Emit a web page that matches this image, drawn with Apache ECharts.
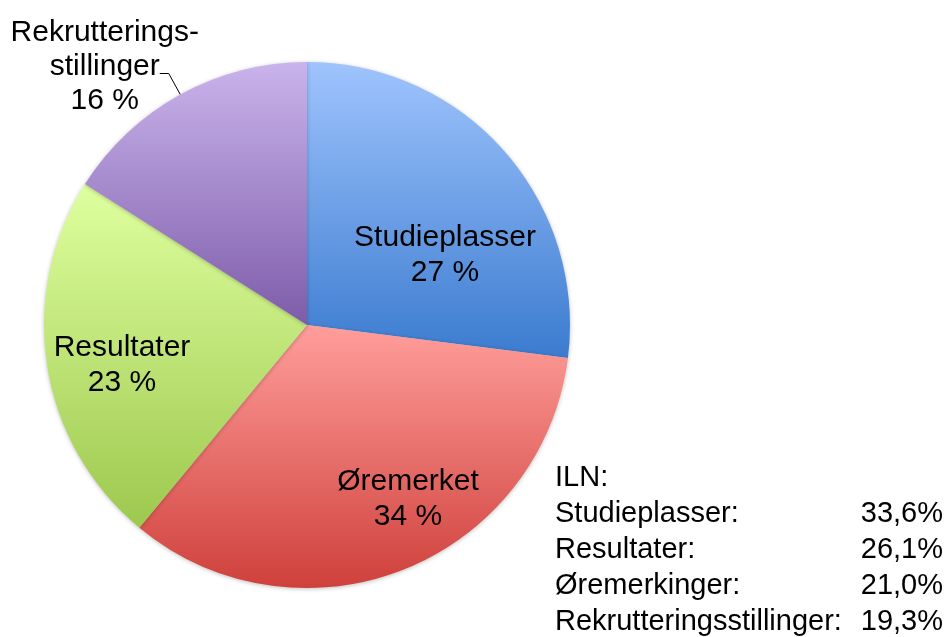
<!DOCTYPE html>
<html>
<head>
<meta charset="utf-8">
<script src="https://cdn.jsdelivr.net/npm/echarts@6/dist/echarts.min.js"></script>
<style>
  html, body { margin: 0; padding: 0; background: #fff; }
  #chart { width: 949px; height: 637px; }
</style>
</head>
<body>
<div id="chart"></div>
<script>
// Pie data (share of budget, %)
const categories = ['Studieplasser', 'Øremerket', 'Resultater', 'Rekrutterings-\nstillinger'];
const shares = [27, 34, 23, 16];

// ILN comparison block
const ilnTitle = 'ILN:';
const ilnNames = ['Studieplasser:', 'Resultater:', 'Øremerkinger:', 'Rekrutteringsstillinger:'];
const ilnValues = ['33,6%', '26,1%', '21,0%', '19,3%'];

// gradient stops per slice (top -> bottom)
const sliceColors = [
  ['#9fc4fd', '#3b7bcf'],
  ['#ff9e9b', '#cf403b'],
  ['#dfff9f', '#9dc84e'],
  ['#cab4ec', '#7d5ca9']
];

const FONT = '"Liberation Sans", Arial, sans-serif';
const center = [307, 325];
const radius = 263;

// label centre offsets from the pie centre (inside labels)
const labelOffsets = [[138, -70], [101, 174], [-185, 40]];

function grad(c) {
  return new echarts.graphic.LinearGradient(0, 0, 0, 1, [
    { offset: 0, color: c[0] },
    { offset: 1, color: c[1] }
  ]);
}

const chart = echarts.init(document.getElementById('chart'), null, { renderer: 'canvas' });

const ilnText = [];
ilnText.push({
  type: 'text', left: 555, top: 463,
  style: { text: ilnTitle, font: '29px ' + FONT, fill: '#000' }
});
ilnNames.forEach(function (n, i) {
  ilnText.push({
    type: 'text', left: 555, top: 499 + i * 36,
    style: { text: n, font: '29px ' + FONT, fill: '#000' }
  });
  ilnText.push({
    type: 'text', right: 6, top: 499 + i * 36,
    style: { text: ilnValues[i], font: '29px ' + FONT, fill: '#000' }
  });
});

chart.setOption({
  backgroundColor: '#fff',
  animation: false,
  graphic: ilnText,
  series: [{
    type: 'pie',
    center: center,
    radius: radius,
    startAngle: 90,
    clockwise: true,
    avoidLabelOverlap: false,
    itemStyle: {
      borderWidth: 0,
      shadowBlur: 4,
      shadowColor: 'rgba(0,0,0,0.25)',
      shadowOffsetY: 1
    },
    label: {
      position: 'inside',
      color: '#000',
      fontFamily: FONT,
      fontSize: 30,
      lineHeight: 35,
      align: 'center',
      formatter: function (p) { return p.name + '\n' + Math.round(p.percent) + ' %'; }
    },
    labelLine: { show: false },
    labelLayout: function (p) {
      if (p.dataIndex === 3 && p.labelLinePoints) {
        const end = p.labelLinePoints[2];
        return {
          x: end[0] - 55, y: end[1] - 7,
          align: 'center', verticalAlign: 'middle',
          labelLinePoints: p.labelLinePoints
        };
      }
      const o = labelOffsets[p.dataIndex];
      if (!o) return {};
      return { x: center[0] + o[0], y: center[1] + o[1], align: 'center', verticalAlign: 'middle' };
    },
    data: shares.map(function (v, i) {
      const d = { name: categories[i], value: v, itemStyle: { color: grad(sliceColors[i]) } };
      if (i === 3) {
        d.label = { position: 'outside', lineHeight: 34 };
        d.labelLine = { show: true, length: 24, length2: 9, lineStyle: { color: '#000', width: 1 } };
      }
      return d;
    })
  }]
});
</script>
</body>
</html>
